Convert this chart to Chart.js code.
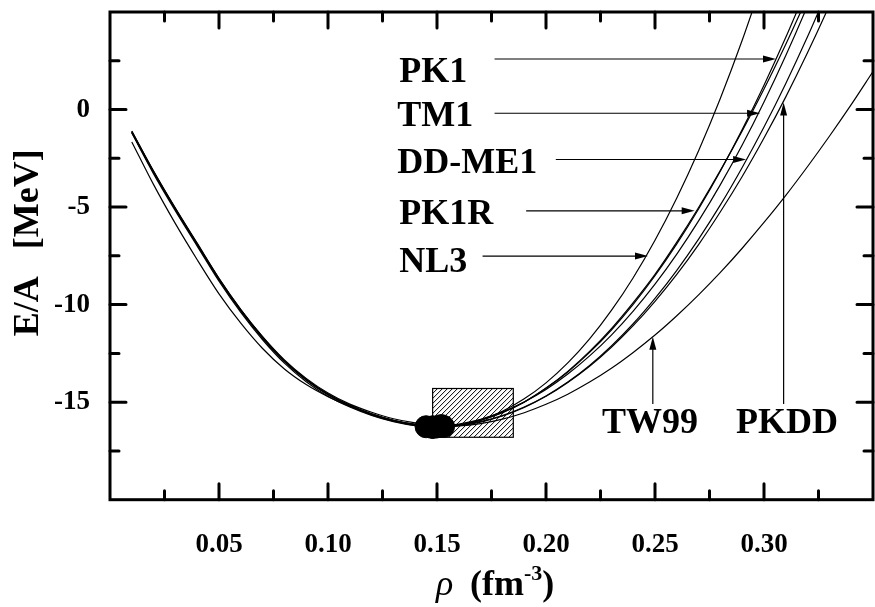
<!DOCTYPE html>
<html>
<head>
<meta charset="utf-8">
<script src="https://cdn.jsdelivr.net/npm/chart.js@4.4.1/dist/chart.umd.min.js"></script>
<style>
html, body { margin: 0; padding: 0; background: #fff; overflow: hidden; }
#wrap { width: 885px; height: 607px; }
</style>
</head>
<body>
<div id="wrap"><canvas id="myChart" width="885" height="607"></canvas></div>
<script>
// density grid (fm^-3), shared by every curve
let rho = [0.01, 0.02, 0.03, 0.04, 0.05, 0.06, 0.07, 0.08, 0.09, 0.10,
           0.11, 0.12, 0.13, 0.14, 0.15, 0.16, 0.17, 0.18, 0.19, 0.20,
           0.21, 0.22, 0.23, 0.24, 0.25, 0.26, 0.27, 0.28, 0.29, 0.30,
           0.31, 0.32, 0.33, 0.34, 0.35];

// E/A (MeV)
let eNL3  = [-1.10, -3.15, -5.05, -6.85, -8.65, -10.25, -11.65, -12.88, -13.85, -14.62,
             -15.20, -15.65, -15.98, -16.20, -16.30, -16.19, -15.91, -15.47, -14.83, -14.01,
             -12.99, -11.76, -10.30, -8.62, -6.70, -4.53, -2.11, 0.58, 3.55, 6.80];
let ePK1  = [-1.15, -3.20, -5.10, -6.90, -8.70, -10.30, -11.70, -12.90, -13.85, -14.60,
             -15.17, -15.60, -15.93, -16.15, -16.26, -16.17, -15.92, -15.53, -14.99, -14.29,
             -13.45, -12.45, -11.30, -9.99, -8.52, -6.89, -5.10, -3.15, -1.03, 1.25,
             3.70, 6.33];
let ePK1R = [-1.18, -3.22, -5.12, -6.92, -8.72, -10.32, -11.72, -12.92, -13.87, -14.62,
             -15.18, -15.62, -15.94, -16.16, -16.26, -16.18, -15.93, -15.54, -15.00, -14.28,
             -13.42, -12.40, -11.23, -9.90, -8.45, -6.80, -5.02, -3.12, -1.10, 1.05,
             3.35, 5.78];
let eTM1  = [-1.20, -3.30, -5.20, -7.00, -8.80, -10.40, -11.80, -13.00, -13.95, -14.70,
             -15.25, -15.68, -16.00, -16.20, -16.25, -16.12, -15.88, -15.50, -14.99, -14.35,
             -13.56, -12.63, -11.56, -10.33, -8.95, -7.41, -5.71, -3.85, -1.82, 0.39,
             2.77, 5.33, 8.07];
let eDDME1 = [-1.12, -3.18, -5.08, -6.88, -8.66, -10.25, -11.64, -12.83, -13.78, -14.53,
             -15.10, -15.52, -15.85, -16.06, -16.18, -16.16, -15.99, -15.69, -15.25, -14.68,
             -13.97, -13.12, -12.12, -10.98, -9.68, -8.24, -6.64, -4.89, -2.97, -0.90,
             1.34, 3.74, 6.31];
let ePKDD = [-1.16, -3.22, -5.12, -6.93, -8.72, -10.30, -11.68, -12.88, -13.82, -14.58,
             -15.15, -15.60, -15.94, -16.16, -16.27, -16.21, -16.02, -15.71, -15.27, -14.70,
             -13.99, -13.16, -12.19, -11.08, -9.83, -8.45, -6.92, -5.24, -3.43, -1.46,
             0.65, 2.92, 5.34, 7.90];
let eTW99 = [-1.66, -3.85, -5.85, -7.70, -9.45, -10.95, -12.25, -13.30, -14.10, -14.72,
             -15.22, -15.62, -15.93, -16.13, -16.24, -16.22, -16.10, -15.87, -15.54, -15.11,
             -14.59, -13.97, -13.26, -12.45, -11.56, -10.57, -9.50, -8.35, -7.11, -5.79,
             -4.40, -2.92, -1.37, 0.25, 1.95];

// saturation points (NL3, TM1, PK1, PK1R, DD-ME1, TW99, PKDD)
let satRho = [0.148, 0.145, 0.148, 0.148, 0.152, 0.153, 0.150];
let satE   = [-16.30, -16.26, -16.27, -16.27, -16.20, -16.25, -16.27];

// empirical box
let boxRho = [0.148, 0.185];
let boxE   = [-16.8, -14.3];

let xTickLabels = ["0.05", "0.10", "0.15", "0.20", "0.25", "0.30"];
let yTickLabels = ["-15", "-10", "-5", "0"];

// labels with arrows (label anchor, arrow tail, arrow tip), in data units
let notes = [
    { text: "PK1",    at: [0.1327, 1.43],  from: [0.1764, 2.59],  to: [0.3055, 2.59] },
    { text: "TM1",    at: [0.1318, -0.84], from: [0.1764, -0.19], to: [0.2982, -0.19] },
    { text: "DD-ME1", at: [0.1318, -3.27], from: [0.2045, -2.56], to: [0.2918, -2.56] },
    { text: "PK1R",   at: [0.1327, -5.89], from: [0.1909, -5.19], to: [0.2682, -5.19] },
    { text: "NL3",    at: [0.1327, -8.32], from: [0.1709, -7.51], to: [0.2468, -7.51] },
    { text: "TW99",   at: [0.2477, -16.6], from: [0.249, -15.09], to: [0.249, -11.65], center: true },
    { text: "PKDD",   at: [0.3105, -16.6], from: [0.309, -15.09], to: [0.309, 0.36],   center: true }
];

let serif = '"Liberation Serif", "Times New Roman", serif';

function curve(e) {
    return {
        type: "line",
        data: e.map((v, i) => ({ x: rho[i], y: v })),
        borderColor: "#000",
        borderWidth: 1.2,
        pointRadius: 0,
        fill: false,
        cubicInterpolationMode: "monotone",
        order: 2
    };
}

function drawArrow(ctx, x1, y1, x2, y2) {
    let a = Math.atan2(y2 - y1, x2 - x1);
    ctx.beginPath();
    ctx.moveTo(x1, y1);
    ctx.lineTo(x2 - 10 * Math.cos(a), y2 - 10 * Math.sin(a));
    ctx.lineWidth = 1.2;
    ctx.stroke();
    ctx.save();
    ctx.translate(x2, y2);
    ctx.rotate(a);
    ctx.beginPath();
    ctx.moveTo(0, 0);
    ctx.lineTo(-13, -3.5);
    ctx.lineTo(-13, 3.5);
    ctx.closePath();
    ctx.fill();
    ctx.restore();
}

let framePlugin = {
    id: "frame",
    beforeDatasetsDraw(chart) {
        let ctx = chart.ctx, xs = chart.scales.x, ys = chart.scales.y;
        let x0 = xs.getPixelForValue(boxRho[0]), x1 = xs.getPixelForValue(boxRho[1]);
        let y0 = ys.getPixelForValue(boxE[1]), y1 = ys.getPixelForValue(boxE[0]);
        ctx.save();
        ctx.beginPath();
        ctx.rect(x0, y0, x1 - x0, y1 - y0);
        ctx.clip();
        ctx.strokeStyle = "#000";
        ctx.lineWidth = 1;
        let h = y1 - y0;
        for (let k = -h; k < x1 - x0 + h; k += 5) {
            ctx.beginPath();
            ctx.moveTo(x0 + k, y1);
            ctx.lineTo(x0 + k + h, y0);
            ctx.stroke();
        }
        ctx.restore();
        ctx.save();
        ctx.strokeStyle = "#000";
        ctx.lineWidth = 1.2;
        ctx.strokeRect(x0, y0, x1 - x0, y1 - y0);
        ctx.restore();
    },
    afterDatasetsDraw(chart) {
        let ctx = chart.ctx, xs = chart.scales.x, ys = chart.scales.y;
        let { left, right, top, bottom } = chart.chartArea;
        ctx.save();
        ctx.strokeStyle = "#000";
        ctx.fillStyle = "#000";

        // inward ticks on all four sides
        ctx.lineWidth = 3;
        ctx.lineCap = "round";
        xs.ticks.forEach(t => {
            if (t.value <= xs.min || t.value >= xs.max) return;
            let px = xs.getPixelForValue(t.value);
            let len = xTickLabels.includes(t.value.toFixed(2)) ? 16 : 9;
            ctx.beginPath();
            ctx.moveTo(px, bottom); ctx.lineTo(px, bottom - len);
            ctx.moveTo(px, top); ctx.lineTo(px, top + len);
            ctx.stroke();
        });
        ys.ticks.forEach(t => {
            if (t.value <= ys.min || t.value >= ys.max) return;
            let py = ys.getPixelForValue(t.value);
            let len = yTickLabels.includes(String(t.value)) ? 16 : 9;
            ctx.beginPath();
            ctx.moveTo(left, py); ctx.lineTo(left + len, py);
            ctx.moveTo(right, py); ctx.lineTo(right - len, py);
            ctx.stroke();
        });
        ctx.lineCap = "butt";
        ctx.strokeRect(left, top, right - left, bottom - top);

        // curve labels with arrows
        ctx.font = "bold 36px " + serif;
        ctx.textBaseline = "alphabetic";
        notes.forEach(n => {
            ctx.textAlign = n.center ? "center" : "left";
            ctx.fillText(n.text, xs.getPixelForValue(n.at[0]), ys.getPixelForValue(n.at[1]));
            drawArrow(ctx,
                xs.getPixelForValue(n.from[0]), ys.getPixelForValue(n.from[1]),
                xs.getPixelForValue(n.to[0]), ys.getPixelForValue(n.to[1]));
        });

        // y axis title
        ctx.save();
        ctx.translate(38, (top + bottom) / 2 - 13);
        ctx.rotate(-Math.PI / 2);
        ctx.textAlign = "center";
        ctx.font = "bold 36px " + serif;
        ctx.fillText("E/A   [MeV]", 0, 0);
        ctx.restore();

        // x axis title: rho (fm^-3)
        let bx = 436, by = 595;
        ctx.textAlign = "left";
        ctx.font = "italic 36px " + serif;
        ctx.fillText("\u03c1", bx, by);
        bx = 470;
        ctx.font = "bold 36px " + serif;
        ctx.fillText("(fm", bx, by);
        bx += ctx.measureText("(fm").width;
        ctx.font = "bold 22px " + serif;
        ctx.fillText("-3", bx, by - 15);
        bx += ctx.measureText("-3").width;
        ctx.font = "bold 36px " + serif;
        ctx.fillText(")", bx, by);
        ctx.restore();
    }
};

let myChart = document.getElementById("myChart").getContext("2d");
let eosChart = new Chart(myChart, {
    type: "line",
    data: {
        datasets: [
            {
                type: "scatter",
                data: satRho.map((r, i) => ({ x: r, y: satE[i] })),
                backgroundColor: "#000",
                borderColor: "#000",
                pointRadius: 11,
                pointHoverRadius: 11,
                showLine: false,
                order: 1
            },
            curve(eNL3), curve(ePK1), curve(ePK1R), curve(eTM1),
            curve(eDDME1), curve(ePKDD), curve(eTW99)
        ]
    },
    options: {
        responsive: false,
        animation: false,
        layout: { padding: { top: 5.3, right: 5, left: 0, bottom: 0 } },
        plugins: {
            legend: { display: false },
            tooltip: { enabled: false },
            title: { display: false }
        },
        scales: {
            x: {
                type: "linear",
                min: 0,
                max: 0.35,
                grid: { display: false, drawTicks: false },
                border: { display: false },
                ticks: {
                    stepSize: 0.025,
                    autoSkip: false,
                    maxRotation: 0,
                    padding: 29,
                    color: "#000",
                    font: { family: serif, size: 27, weight: "bold" },
                    callback: function(value) {
                        let s = value.toFixed(2);
                        return xTickLabels.includes(s) ? s : "";
                    }
                },
                afterFit: function(scale) {
                    scale.height = 107.3;
                    scale.paddingLeft = 0;
                    scale.paddingRight = 0;
                }
            },
            y: {
                min: -20,
                max: 5,
                grid: { display: false, drawTicks: false },
                border: { display: false },
                ticks: {
                    stepSize: 2.5,
                    autoSkip: false,
                    padding: 20,
                    color: "#000",
                    font: { family: serif, size: 27, weight: "bold" },
                    callback: function(value) {
                        let s = String(value);
                        return yTickLabels.includes(s) ? s : "";
                    }
                },
                afterFit: function(scale) {
                    scale.width = 110;
                    scale.paddingTop = 0;
                    scale.paddingBottom = 0;
                }
            }
        },
        elements: { point: { radius: 0 } }
    },
    plugins: [framePlugin]
});
</script>
</body>
</html>
